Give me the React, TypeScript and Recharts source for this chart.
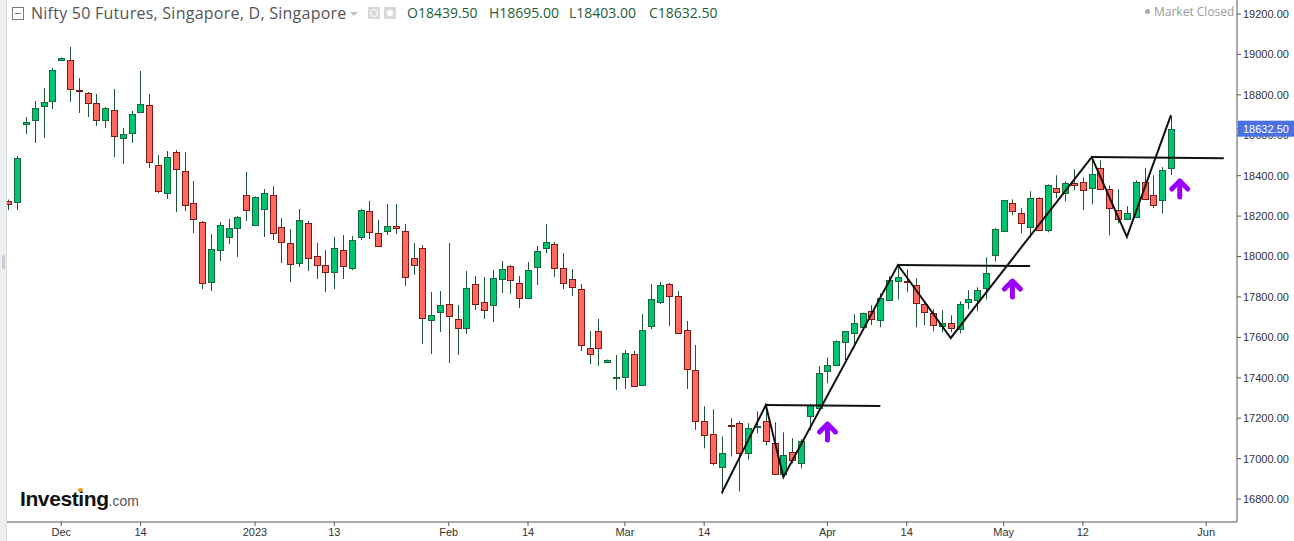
import React from "react";
import { ComposedChart, Bar, Line, XAxis, YAxis, ReferenceDot } from "recharts";

const dates = [
  "2022-11-23","2022-11-24","2022-11-25","2022-11-28","2022-11-29","2022-11-30",
  "2022-12-01","2022-12-02","2022-12-05","2022-12-06","2022-12-07","2022-12-08","2022-12-09","2022-12-12","2022-12-13","2022-12-14","2022-12-15","2022-12-16","2022-12-19","2022-12-20","2022-12-21","2022-12-22","2022-12-23","2022-12-26","2022-12-27","2022-12-28","2022-12-29","2022-12-30",
  "2023-01-02","2023-01-03","2023-01-04","2023-01-05","2023-01-06","2023-01-09","2023-01-10","2023-01-11","2023-01-12","2023-01-13","2023-01-16","2023-01-17","2023-01-18","2023-01-19","2023-01-20","2023-01-23","2023-01-24","2023-01-25","2023-01-26","2023-01-27","2023-01-30","2023-01-31",
  "2023-02-01","2023-02-02","2023-02-03","2023-02-06","2023-02-07","2023-02-08","2023-02-09","2023-02-10","2023-02-13","2023-02-14","2023-02-15","2023-02-16","2023-02-17","2023-02-20","2023-02-21","2023-02-22","2023-02-23","2023-02-24","2023-02-27","2023-02-28",
  "2023-03-01","2023-03-02","2023-03-03","2023-03-06","2023-03-07","2023-03-08","2023-03-09","2023-03-10","2023-03-13","2023-03-14","2023-03-15","2023-03-16","2023-03-17","2023-03-20","2023-03-21","2023-03-22","2023-03-23","2023-03-24","2023-03-27","2023-03-28","2023-03-29","2023-03-30","2023-03-31",
  "2023-04-03","2023-04-04","2023-04-05","2023-04-06","2023-04-07","2023-04-10","2023-04-11","2023-04-12","2023-04-13","2023-04-14","2023-04-17","2023-04-18","2023-04-19","2023-04-20","2023-04-21","2023-04-24","2023-04-25","2023-04-26","2023-04-27","2023-04-28",
  "2023-05-01","2023-05-02","2023-05-03","2023-05-04","2023-05-05","2023-05-08","2023-05-09","2023-05-10","2023-05-11","2023-05-12","2023-05-15","2023-05-16","2023-05-17","2023-05-18","2023-05-19","2023-05-22","2023-05-23","2023-05-24","2023-05-25","2023-05-26","2023-05-29","2023-05-30","2023-05-31",
  "2023-06-01","2023-06-02","2023-06-05","2023-06-06",
];

const openP = [
  18273,18270,18656,18676,18745,18770,18972,18972,18822,18809,18760,18676,18725,18587,18611,18715,18750,18453,18314,18517,
  18423,18265,18171,17874,18032,18097,18141,18304,18156,18235,18304,18146,18067,17968,18166,18003,17958,17923,18032,17943,
  18097,18225,18116,18126,18151,18126,17993,18042,17686,17725,17765,17691,17646,17864,17775,17760,17889,17953,17869,17795,
  17948,18042,18062,17943,17889,17839,17547,17631,17478,17404,17404,17518,17364,17656,17775,17864,17805,17637,17438,17185,
  17120,16957,17166,17175,17026,17160,17185,17076,16922,17031,16977,17210,17249,17432,17462,17576,17620,17650,17729,17685,
  17783,17878,17879,17858,17764,17719,17655,17670,17640,17774,17783,17843,18006,18125,18263,18214,18145,18288,18130,18338,
  18313,18362,18367,18338,18437,18333,18229,18184,18194,18367,18303,18278,18439.5,
];
const highP = [
  18282,18497,18690,18770,18834,18933,18985,19037,18883,18814,18804,18740,18829,18636,18720,18918,18804,18502,18522,18527,
  18517,18374,18176,18111,18171,18186,18200,18418,18298,18334,18349,18191,18136,18235,18176,18067,18032,18097,18106,18102,
  18235,18275,18181,18260,18260,18161,18067,18057,17824,17829,18067,17760,17928,17904,17899,17933,17978,17958,17904,17973,
  18052,18161,18072,18017,17938,17864,17631,17691,17490,17513,17537,17533,17715,17864,17874,17869,17829,17681,17562,17259,
  17244,17110,17200,17185,17175,17234,17269,17180,17130,17101,17096,17270,17457,17501,17584,17632,17714,17722,17759,17818,
  17902,17950,17937,17892,17783,17739,17734,17709,17778,17833,17848,17996,18140,18280,18283,18239,18323,18293,18357,18402,
  18372,18432,18392,18481,18476,18352,18333,18249,18377,18437,18402,18442,18695,
];
const lowP = [
  18230,18230,18606,18562,18587,18730,18970,18765,18710,18690,18646,18636,18492,18458,18562,18710,18438,18314,18285,18220,
  18225,18116,17839,17829,17978,18062,17998,18176,18154,18097,18082,17968,17874,17948,17928,17889,17824,17839,17889,17933,
  18082,18087,18047,18106,18111,17854,17909,17567,17518,17627,17473,17513,17617,17735,17691,17676,17820,17815,17745,17793,
  17859,18017,17899,17839,17805,17532,17468,17458,17476,17340,17345,17357,17362,17641,17765,17656,17620,17345,17142,17051,
  16967,16824,17011,16838,16995,17125,17066,16920,16908,16977,16952,17142,17247,17373,17457,17487,17551,17647,17661,17650,
  17780,17788,17823,17650,17660,17630,17625,17625,17620,17739,17729,17788,17976,18123,18204,18115,18095,18128,18120,18288,
  18273,18328,18229,18258,18328,18105,18164,18182,18190,18280,18239,18214,18403,
];
const closeP = [
  18260,18487,18666,18735,18765,18923,18982,18829,18819,18760,18676,18735,18596,18606,18705,18755,18468,18324,18492,18433,
  18255,18186,17869,18037,18156,18141,18196,18230,18294,18314,18116,18072,17963,18181,17993,17958,17923,18042,17953,18082,
  18230,18121,18052,18151,18141,17899,17958,17696,17711,17760,17706,17646,17844,17765,17735,17894,17938,17884,17795,17933,
  18027,18072,17943,17869,17849,17562,17517,17547,17488,17405,17523,17359,17637,17790,17859,17805,17622,17443,17186,17115,
  16977,17026,17163,17026,17150,17162,17086,16922,17016,16992,17086,17264,17422,17462,17581,17630,17670,17719,17690,17793,
  17882,17897,17876,17768,17724,17660,17670,17645,17764,17789,17833,17917,18135,18278,18224,18164,18288,18130,18352,18318,
  18362,18352,18328,18407,18333,18239,18184,18214,18367,18283,18254,18427,18632.5,
];

const tickDates = ["2022-12-01","2022-12-14","2023-01-02","2023-01-13","2023-02-01","2023-02-14","2023-03-01","2023-03-14","2023-04-03","2023-04-14","2023-05-01","2023-05-12","2023-06-01"];
const tickLabels = ["Dec","14","2023","13","Feb","14","Mar","14","Apr","14","May","12","Jun"];
const yTicks = [16800,17000,17200,17400,17600,17800,18000,18200,18400,18600,18800,19000,19200];

const zigIdx = [81,86,88,101,107,123,127,132];
const zigVal = [16830,17265,16909,17958,17597,18492,18097,18700];
const h1Idx = [86,99];
const h1Val = [17265,17260];
const h2Idx = [101,116];
const h2Val = [17958,17953];
const h3Idx = [123,138];
const h3Val = [18492,18486];
const arrowIdx = [93,114,133];
const arrowVal = [17132,17839,18334];
const lastPrice = 18632.5;

const Y_DOMAIN = [16686.4, 19269.3];
const CHART_W = 1294;
const AXIS_W = 57;
const PLOT_RIGHT = CHART_W - AXIS_W;

const GREEN = "#00c46f";
const GREEN_EDGE = "#17663c";
const RED = "#ff6a60";
const RED_EDGE = "#781b17";
const WICK = "#1c5535";
const FONT = "'Liberation Sans', Arial, sans-serif";

const pick = (idx: number[], val: number[], i: number) => {
  const k = idx.indexOf(i);
  return k >= 0 ? val[k] : null;
};

const data = dates.map((d, i) => {
  const row: any = { date: d };
  if (i < openP.length) {
    row.o = openP[i];
    row.h = highP[i];
    row.l = lowP[i];
    row.c = closeP[i];
    row.range = [lowP[i], highP[i]];
  }
  row.zig = pick(zigIdx, zigVal, i);
  row.h1 = pick(h1Idx, h1Val, i);
  row.h2 = pick(h2Idx, h2Val, i);
  row.h3 = pick(h3Idx, h3Val, i);
  return row;
});

const Candle = (props: any) => {
  const { x, y, width, height, payload } = props;
  if (!payload || payload.o == null || !isFinite(y) || !isFinite(height)) return <g />;
  const { o, h, l, c } = payload;
  const top = Math.min(y, y + height);
  const hh = Math.abs(height);
  const px = (v: number) => (h === l ? top : top + ((h - v) / (h - l)) * hh);
  const cx = Math.round(x + width / 2) + 0.5;
  const up = c >= o;
  const bt = Math.round(px(Math.max(o, c))) + 0.5;
  let bb = Math.round(px(Math.min(o, c))) + 0.5;
  if (bb - bt < 1) bb = bt + 1;
  return (
    <g>
      <line x1={cx} x2={cx} y1={px(h)} y2={px(l)} stroke={WICK} strokeWidth={1} />
      <rect x={cx - 3} y={bt} width={6} height={bb - bt} fill={up ? GREEN : RED} stroke={up ? GREEN_EDGE : RED_EDGE} strokeWidth={1} />
    </g>
  );
};

const Arrow = (props: any) => {
  const { cx, cy } = props;
  if (!isFinite(cx) || !isFinite(cy)) return <g />;
  return (
    <g>
      <path d={`M${cx - 8} ${cy} L${cx} ${cy - 8} L${cx + 8} ${cy}`} fill="none" stroke="#9a00ff" strokeWidth={5} strokeLinecap="round" strokeLinejoin="round" />
      <path d={`M${cx} ${cy - 7} L${cx} ${cy + 8}`} fill="none" stroke="#9a00ff" strokeWidth={5} strokeLinecap="round" />
    </g>
  );
};

// y-axis tick: regular labels, plus the last-price tag drawn last (on top)
const YTick = (props: any) => {
  const { x, y, payload } = props;
  if (!payload || !isFinite(y)) return <g />;
  const v = payload.value;
  if (v === lastPrice) {
    return (
      <g>
        <rect x={PLOT_RIGHT + 1} y={y - 8} width={AXIS_W - 1} height={16} fill="#4a70e3" />
        <text x={PLOT_RIGHT + 6} y={y} dy="0.355em" fill="#ffffff" fontSize={11} textAnchor="start" fontFamily={FONT}>
          {lastPrice.toFixed(2)}
        </text>
      </g>
    );
  }
  return (
    <text x={x} y={y} dy="0.355em" fill="#333" fontSize={11} textAnchor="start" fontFamily={FONT}>
      {Number(v).toFixed(2)}
    </text>
  );
};

const fmtX = (v: string) => {
  const k = tickDates.indexOf(v);
  return k >= 0 ? tickLabels[k] : "";
};

const axisFont = { fontSize: 11, fill: "#333", fontFamily: FONT };

export default function App() {
  return (
    <div style={{ position: "absolute", left: 0, top: 0, width: 1294, height: 541, background: "#fff", overflow: "hidden" }}>
      <ComposedChart width={CHART_W} height={541} data={data} margin={{ top: 0, right: 0, bottom: 0, left: 4 }}>
        <XAxis
          dataKey="date"
          ticks={tickDates}
          interval={0}
          tickFormatter={fmtX}
          height={19}
          tickSize={4}
          tickMargin={2}
          tick={axisFont}
          axisLine={{ stroke: "#555" }}
          tickLine={{ stroke: "#555" }}
        />
        <YAxis
          orientation="right"
          type="number"
          domain={Y_DOMAIN}
          allowDataOverflow
          ticks={[...yTicks, lastPrice]}
          interval={0}
          width={AXIS_W}
          tickSize={4}
          tickMargin={2}
          tick={YTick}
          axisLine={{ stroke: "#555" }}
          tickLine={{ stroke: "#555" }}
        />
        <Bar dataKey="range" shape={Candle} isAnimationActive={false} />
        <Line dataKey="zig" stroke="#111" strokeWidth={2} dot={false} activeDot={false} connectNulls isAnimationActive={false} />
        <Line dataKey="h1" stroke="#111" strokeWidth={2} dot={false} activeDot={false} connectNulls isAnimationActive={false} />
        <Line dataKey="h2" stroke="#111" strokeWidth={2} dot={false} activeDot={false} connectNulls isAnimationActive={false} />
        <Line dataKey="h3" stroke="#111" strokeWidth={2} dot={false} activeDot={false} connectNulls isAnimationActive={false} />
        {arrowIdx.map((ix, k) => (
          <ReferenceDot key={k} x={dates[ix]} y={arrowVal[k]} r={10} shape={Arrow} />
        ))}
      </ComposedChart>

      {/* left panel strip */}
      <div style={{ position: "absolute", left: 0, top: 0, width: 6, height: 541, background: "#eceef1", borderRight: "1px solid #d9dce0" }} />
      <div style={{ position: "absolute", left: 2, top: 255, width: 3, height: 14, borderRadius: 2, background: "#c8cbd0" }} />

      {/* title legend */}
      <div style={{ position: "absolute", left: 12, top: 7, width: 10, height: 11, border: "1px solid #7a7a7a", boxSizing: "content-box" }}>
        <div style={{ position: "absolute", left: 2, top: 5, width: 6, height: 1, background: "#7a7a7a" }} />
      </div>
      <div style={{ position: "absolute", left: 31, top: 2, fontFamily: "'Open Sans', sans-serif", fontSize: 16, letterSpacing: 0.25, color: "#555", whiteSpace: "nowrap", lineHeight: "22px" }}>
        Nifty 50 Futures, Singapore, D, Singapore
      </div>
      <div style={{ position: "absolute", left: 350, top: 12, width: 0, height: 0, borderLeft: "4px solid transparent", borderRight: "4px solid transparent", borderTop: "4px solid #c0c0c0" }} />
      <div style={{ position: "absolute", left: 368, top: 7, width: 12, height: 12, background: "#d9d9d9" }}>
        <div style={{ position: "absolute", left: 2, top: 2, width: 6, height: 6, borderRadius: 4, border: "1px solid #fff" }} />
      </div>
      <div style={{ position: "absolute", left: 384, top: 7, width: 12, height: 12, background: "#d9d9d9" }}>
        <div style={{ position: "absolute", left: 3, top: 3, width: 6, height: 6, borderRadius: 3, background: "#fff" }} />
      </div>
      {[
        ["O18439.50", 407],
        ["H18695.00", 489],
        ["L18403.00", 569],
        ["C18632.50", 649],
      ].map(([t, x]) => (
        <div key={t as string} style={{ position: "absolute", left: x as number, top: 3, fontFamily: "'Open Sans', sans-serif", fontSize: 14, color: "#1d5e38", whiteSpace: "nowrap", lineHeight: "20px" }}>
          {t}
        </div>
      ))}

      {/* market closed */}
      <div style={{ position: "absolute", left: 1145, top: 9, width: 5, height: 5, borderRadius: 3, background: "#a8a8a8" }} />
      <div style={{ position: "absolute", left: 1154, top: 3, fontFamily: "'Open Sans', sans-serif", fontSize: 12, color: "#9a9a9a", whiteSpace: "nowrap", lineHeight: "18px" }}>
        Market Closed
      </div>

      {/* logo */}
      <div style={{ position: "absolute", left: 20, top: 486, whiteSpace: "nowrap", lineHeight: "26px" }}>
        <span style={{ fontFamily: FONT, fontWeight: 700, fontSize: 21, letterSpacing: -0.4, color: "#111" }}>Investing</span>
        <span style={{ fontFamily: FONT, fontSize: 14, color: "#555" }}>.com</span>
      </div>
      <div style={{ position: "absolute", left: 78, top: 488, width: 5, height: 4, borderRadius: 2, background: "#f29d1a" }} />
    </div>
  );
}
